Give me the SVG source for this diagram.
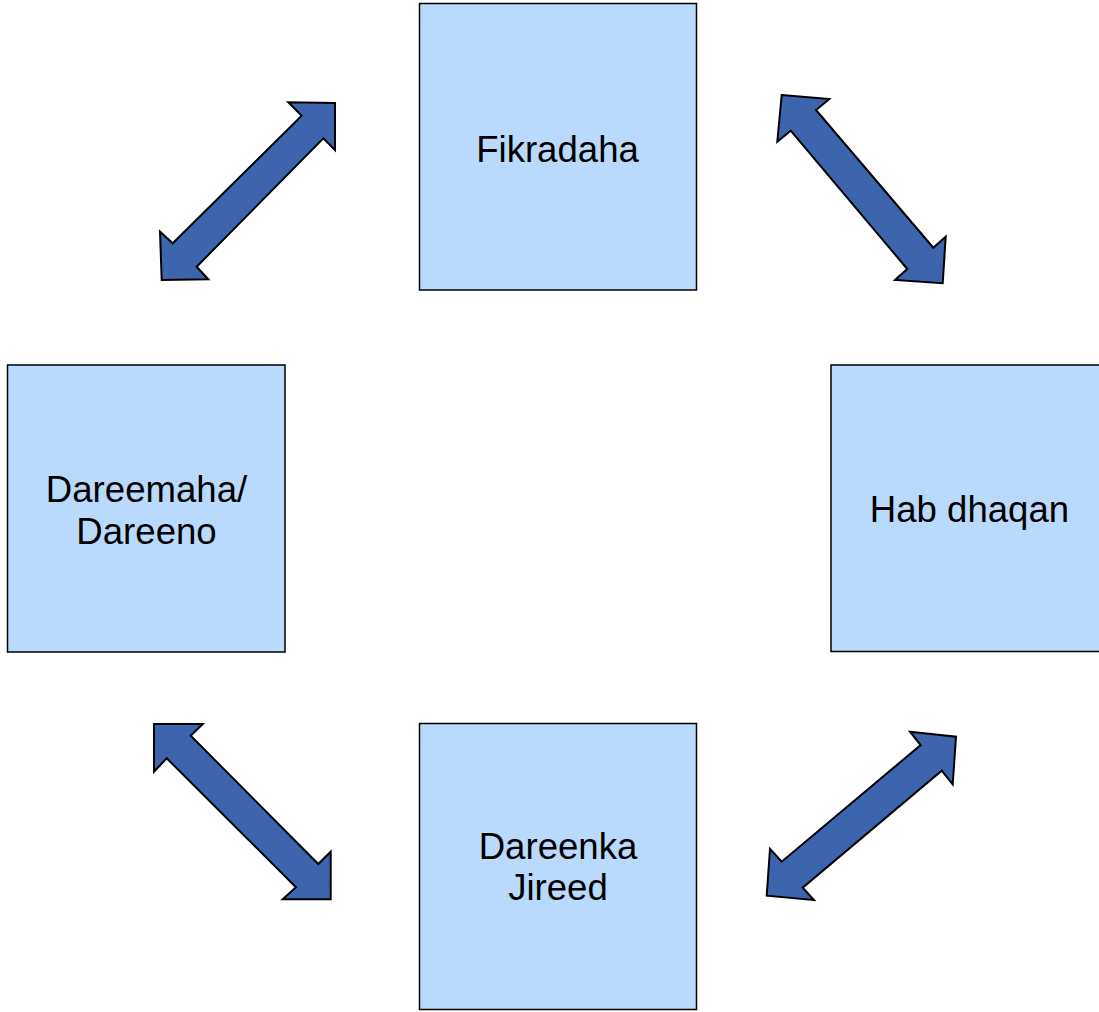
<svg xmlns="http://www.w3.org/2000/svg" width="1099" height="1012" viewBox="0 0 1099 1012">
<style>
.box{fill:#B9DAFC;stroke:#000;stroke-width:1.5}
.lbl{font-family:"Liberation Sans",Arial,sans-serif;font-size:36.6px;fill:#000;text-anchor:middle}
.arr{fill:#3D65AD;stroke:#000;stroke-width:2;stroke-linejoin:miter}
</style>
<rect width="1099" height="1012" fill="#fff"/>
<g id="node-fikradaha">
<rect class="box" x="419.5" y="3.5" width="277" height="286.5"/>
<text class="lbl" x="557.5" y="162">Fikradaha</text>
</g>
<g id="node-dareemaha">
<rect class="box" x="7.5" y="365" width="277.5" height="287"/>
<text class="lbl" x="146.5" y="501.5">Dareemaha/</text>
<text class="lbl" x="146.5" y="543.5">Dareeno</text>
</g>
<g id="node-habdhaqan">
<rect class="box" x="831" y="365" width="278" height="286.5"/>
<text class="lbl" x="969.5" y="521.5">Hab dhaqan</text>
</g>
<g id="node-dareenka">
<rect class="box" x="419.5" y="723.5" width="277" height="286"/>
<text class="lbl" x="558" y="858.5">Dareenka</text>
<text class="lbl" x="558" y="900">Jireed</text>
</g>
<g id="connectors">
<polygon class="arr" points="335,103 335,150 323.3,138.3 196.7,266.7 208.3,279.3 161.7,280 160,231.7 172.7,243.3 301.7,115.7 288.3,102.3"/>
<polygon class="arr" points="781.7,95 829.3,99 816,110 933.3,247.7 945.7,236.7 942.7,283.3 895,280 907.3,269 790.7,130.7 777.3,141.7"/>
<polygon class="arr" points="154,724 202.7,724 190.7,735.7 318.3,864 330.7,851.7 330.7,899.3 282.7,899.3 296,887.3 166.7,758.3 154,771.7"/>
<polygon class="arr" points="956,736.7 952.7,784.3 941.7,770.7 802.7,887.7 814,900 766.7,895.7 770,849 781.7,861.7 920.7,745 910,731.7"/>
</g>
</svg>
